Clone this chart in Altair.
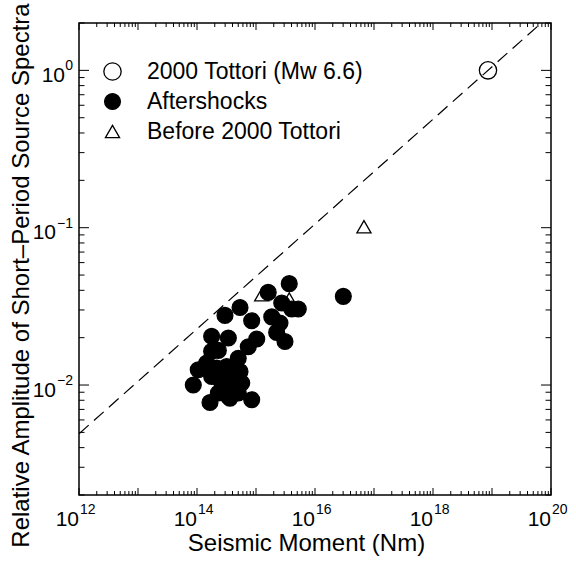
import altair as alt
import pandas as pd

FONT = "Liberation Sans"

# Aftershocks of the 2000 Tottori earthquake: seismic moment (Nm) and relative amplitude
after_m0 = [5.36e14, 2.98e14, 8.45e14, 1.77e14, 3.40e14, 1.03e15, 7.4e14, 1.77e14, 2.30e14, 5.0e14,
            1.46e14, 1.05e14, 2.16e14, 3.18e14, 4.12e14, 5.36e14, 1.77e14, 8.65e13, 2.45e14, 3.62e14,
            5.73e14, 2.79e14, 4.71e14, 2.30e14, 3.40e14, 5.0e14, 1.66e14, 3.62e14, 8.45e14,
            3.66e15, 1.61e15, 2.73e15, 4.03e15, 5.21e15, 3.02e16, 1.85e15, 2.55e15, 2.24e15, 3.10e15]
after_amp = [0.0311, 0.0277, 0.0256, 0.0204, 0.0199, 0.0196, 0.0175, 0.0164, 0.0166, 0.0148,
             0.0138, 0.0125, 0.0128, 0.0131, 0.0125, 0.0122, 0.01135, 0.0100, 0.0108, 0.01054,
             0.0103, 0.00957, 0.0091, 0.0089, 0.00847, 0.0089, 0.00775, 0.00826, 0.00806,
             0.0441, 0.0388, 0.0332, 0.0304, 0.0304, 0.0366, 0.0271, 0.0248, 0.0216, 0.0189]

# Events before the 2000 Tottori earthquake
before_m0 = [1.25e15, 3.66e15, 6.76e16]
before_amp = [0.0375, 0.0352, 0.1014]

# The 2000 Tottori mainshock
main_m0 = [8.55e18]
main_amp = [1.0]

# Reference line through the mainshock (amplitude ~ M0^(1/3))
line_m0 = [1e12, 1e20]
line_amp = [0.0049, 2.27]

groups = ["2000 Tottori (Mw 6.6)", "Aftershocks", "Before 2000 Tottori"]

x_label_exps = [12, 14, 16, 18, 20]
y_label_exps = ["0", "\u22121", "\u22122"]
y_label_vals = [1.0, 0.1, 0.01]

W, H = 472, 472
xs = alt.Scale(type="log", domain=[1e12, 1e20], nice=False)
ys = alt.Scale(type="log", domain=[0.002, 2], nice=False)

# the same axis spec on every layer so that they merge into one
x_axis = alt.Axis(title="Seismic Moment (Nm)", labels=False, ticks=False, domain=False, grid=False,
                  titlePadding=36, titleX=227)
y_axis = alt.Axis(title="Relative Amplitude of Short\u2013Period Source Spectra", labels=False,
                  ticks=False, domain=False, grid=False, titlePadding=46, titleY=252)


def X(field):
    return alt.X(field, scale=xs, axis=x_axis)


def Y(field):
    return alt.Y(field, scale=ys, axis=y_axis)


# tick positions: decades and 2..9 subdivisions
x_major = [10.0 ** e for e in range(12, 21)]
x_minor = [k * 10.0 ** e for e in range(12, 20) for k in range(2, 10)]
y_major = [0.01, 0.1, 1.0]
y_minor = [k * 10.0 ** e for e in range(-3, 1) for k in range(2, 10) if k * 10.0 ** e <= 2.0001]

pts = pd.DataFrame({
    "m0": main_m0 + before_m0 + after_m0,
    "amp": main_amp + before_amp + after_amp,
    "group": [groups[0]] * len(main_m0) + [groups[2]] * len(before_m0) + [groups[1]] * len(after_m0),
})

legend = alt.Legend(title=None, orient="none", legendX=22, legendY=37, labelLimit=400,
                    symbolStrokeColor="black", symbolStrokeWidth=1.3)

points = alt.Chart(pts).mark_point(opacity=1, strokeWidth=1.3).encode(
    x=X("m0:Q"),
    y=Y("amp:Q"),
    shape=alt.Shape("group:N", scale=alt.Scale(domain=groups, range=["circle", "circle", "triangle-up"]),
                    legend=legend),
    fill=alt.Fill("group:N", scale=alt.Scale(domain=groups, range=["transparent", "black", "transparent"]),
                  legend=legend),
    stroke=alt.Stroke("group:N", scale=alt.Scale(domain=groups, range=["black", "black", "black"]),
                      legend=legend),
    size=alt.Size("group:N", scale=alt.Scale(domain=groups, range=[300, 200, 170]), legend=legend),
)

line = alt.Chart(pd.DataFrame({"m0": line_m0, "amp": line_amp})).mark_line(
    color="black", strokeWidth=1.2, strokeDash=[13, 7], clip=True
).encode(x=X("m0:Q"), y=Y("amp:Q"))


def xticks(values, length):
    df = pd.DataFrame({"v": values})
    bottom = alt.Chart(df).mark_rule(color="black", strokeWidth=1).encode(
        x=X("v:Q"), y=alt.value(H), y2=alt.value(H - length))
    top = alt.Chart(df).mark_rule(color="black", strokeWidth=1).encode(
        x=X("v:Q"), y=alt.value(0), y2=alt.value(length))
    return [bottom, top]


def yticks(values, length):
    df = pd.DataFrame({"v": values})
    left = alt.Chart(df).mark_rule(color="black", strokeWidth=1).encode(
        y=Y("v:Q"), x=alt.value(0), x2=alt.value(length))
    right = alt.Chart(df).mark_rule(color="black", strokeWidth=1).encode(
        y=Y("v:Q"), x=alt.value(W), x2=alt.value(W - length))
    return [left, right]


tick_layers = xticks(x_major, 7) + xticks(x_minor, 4) + yticks(y_major, 10) + yticks(y_minor, 5.5)

# tick labels written as 10 with a raised exponent
xlab = pd.DataFrame({"v": [10.0 ** e for e in x_label_exps], "exp": [str(e) for e in x_label_exps]})
x_base = alt.Chart(xlab).mark_text(align="right", baseline="alphabetic", fontSize=21, font=FONT,
                                   color="black").encode(
    x=X("v:Q"), y=alt.value(H + 31), text=alt.value("10"))
x_exp = alt.Chart(xlab).mark_text(align="left", baseline="alphabetic", fontSize=14, font=FONT,
                                  color="black", dx=1).encode(
    x=X("v:Q"), y=alt.value(H + 19), text="exp:N")

ylab = pd.DataFrame({"v": y_label_vals, "exp": y_label_exps})
y_exp = alt.Chart(ylab).mark_text(align="right", baseline="alphabetic", fontSize=14, font=FONT,
                                  color="black").encode(
    y=Y("v:Q"), x=alt.value(-6), text="exp:N")
y_base_short = alt.Chart(ylab).transform_filter("length(datum.exp) == 1").mark_text(
    align="right", baseline="alphabetic", fontSize=21, font=FONT, color="black", dy=11.5).encode(
    y=Y("v:Q"), x=alt.value(-14), text=alt.value("10"))
y_base_long = alt.Chart(ylab).transform_filter("length(datum.exp) > 1").mark_text(
    align="right", baseline="alphabetic", fontSize=21, font=FONT, color="black", dy=11.5).encode(
    y=Y("v:Q"), x=alt.value(-23), text=alt.value("10"))

chart = alt.layer(
    line, *tick_layers, points, x_base, x_exp, y_exp, y_base_short, y_base_long
).properties(
    width=W, height=H,
    autosize=alt.AutoSizeParams(type="none"),
    padding={"left": 79, "top": 23, "right": 25, "bottom": 70},
    background="white",
).configure_view(
    stroke="black", strokeWidth=1.5
).configure_axis(
    titleFont=FONT, titleFontSize=24, titleFontWeight="normal", titleColor="black"
).configure_legend(
    labelFont=FONT, labelFontSize=23, labelColor="black", labelOffset=23, rowPadding=6, padding=0,
)

chart.save("out.html", embed_options={"renderer": "svg", "actions": False})
